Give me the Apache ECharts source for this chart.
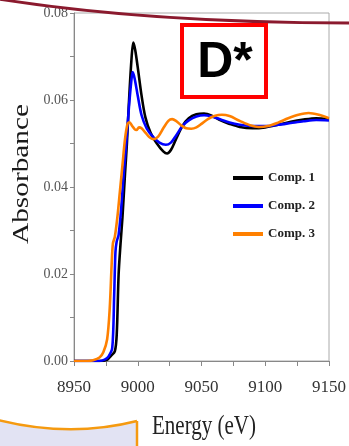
<!DOCTYPE html>
<html>
<head>
<meta charset="utf-8">
<script src="https://cdn.jsdelivr.net/npm/echarts@6/dist/echarts.min.js"></script>
<style>
html,body{margin:0;padding:0;background:#fff;}
#chart{width:349px;height:446px;}
</style>
</head>
<body>
<div id="chart"></div>
<script>
// ---- data ----
const seriesNames = ['Comp. 1', 'Comp. 2', 'Comp. 3'];
const xTicks = [8950, 9000, 9050, 9100, 9150];
const yTicks = [0.00, 0.02, 0.04, 0.06, 0.08];

const comp1Energy = [8950, 8970, 8976, 8979, 8982, 8983.5, 8985, 8986.5, 8988, 8990, 8991.5, 8993, 8995, 8996.5, 8998, 9000, 9003, 9006, 9010, 9015, 9020, 9023, 9026, 9030, 9035, 9040, 9046, 9052, 9058, 9065, 9072, 9080, 9090, 9100, 9110, 9120, 9130, 9140, 9150];
const comp1Abs    = [0.0000, 0.0000, 0.0003, 0.0012, 0.0022, 0.0060, 0.0200, 0.0270, 0.0330, 0.0430, 0.0500, 0.0590, 0.0690, 0.0732, 0.0715, 0.0675, 0.0610, 0.0560, 0.0525, 0.0500, 0.0482, 0.0477, 0.0485, 0.0510, 0.0540, 0.0558, 0.0567, 0.0569, 0.0564, 0.0553, 0.0545, 0.0538, 0.0535, 0.0537, 0.0543, 0.0550, 0.0555, 0.0558, 0.0556];

const comp2Energy = [8950, 8970, 8974, 8977, 8980, 8981.5, 8982.5, 8983.5, 8985, 8987, 8989, 8991, 8993, 8995, 8996, 8997.5, 9000, 9003, 9007, 9012, 9017, 9022, 9026, 9030, 9035, 9040, 9046, 9052, 9058, 9065, 9072, 9080, 9090, 9100, 9110, 9120, 9130, 9140, 9150];
const comp2Abs    = [0.0000, 0.0000, 0.0003, 0.0010, 0.0030, 0.0150, 0.0250, 0.0275, 0.0290, 0.0350, 0.0430, 0.0500, 0.0580, 0.0645, 0.0664, 0.0650, 0.0610, 0.0565, 0.0535, 0.0515, 0.0502, 0.0497, 0.0502, 0.0518, 0.0540, 0.0553, 0.0562, 0.0565, 0.0562, 0.0555, 0.0548, 0.0543, 0.0540, 0.0540, 0.0543, 0.0547, 0.0551, 0.0554, 0.0553];

const comp3Energy = [8950, 8960, 8965, 8970, 8973, 8976, 8978, 8979.5, 8980.5, 8982, 8984, 8986, 8988, 8990, 8992, 8993.5, 8995.5, 8997.5, 8999, 9001, 9003, 9006, 9009, 9012, 9016, 9020, 9024, 9027, 9030, 9034, 9038, 9042, 9046, 9050, 9055, 9060, 9066, 9072, 9080, 9088, 9095, 9102, 9110, 9118, 9126, 9134, 9142, 9150];
const comp3Abs    = [0.0000, 0.0000, 0.0002, 0.0008, 0.0020, 0.0050, 0.0120, 0.0220, 0.0270, 0.0285, 0.0330, 0.0390, 0.0450, 0.0510, 0.0545, 0.0549, 0.0541, 0.0533, 0.0531, 0.0537, 0.0535, 0.0525, 0.0515, 0.0510, 0.0516, 0.0535, 0.0552, 0.0556, 0.0552, 0.0542, 0.0535, 0.0534, 0.0537, 0.0545, 0.0556, 0.0563, 0.0566, 0.0563, 0.0552, 0.0542, 0.0538, 0.0540, 0.0548, 0.0558, 0.0566, 0.0570, 0.0566, 0.0558];

const seriesColors = ['#000000', '#0000ff', '#ff8000'];

function zip(xs, ys) { return xs.map((x, i) => [x, ys[i]]); }
const allData = [zip(comp1Energy, comp1Abs), zip(comp2Energy, comp2Abs), zip(comp3Energy, comp3Abs)];

const chart = echarts.init(document.getElementById('chart'), null, { renderer: 'canvas' });
const serif = "'Liberation Serif', 'DejaVu Serif', serif";

const option = {
  backgroundColor: '#ffffff',
  animation: false,
  grid: { left: 74, right: 13, top: 13, bottom: 85, show: true, borderColor: '#aaaaaa', borderWidth: 1, containLabel: false },
  legend: {
    data: seriesNames,
    left: 228, top: 166, orient: 'vertical',
    itemWidth: 30, itemHeight: 4, itemGap: 14, icon: 'rect',
    textStyle: { fontFamily: serif, fontSize: 13, fontWeight: 'bold', color: '#222', lineHeight: 14 }
  },
  xAxis: {
    type: 'value', min: 8950, max: 9150, interval: 50,
    axisLine: { show: true, lineStyle: { color: '#888', width: 1 } },
    axisTick: { show: true, inside: false, length: 5, lineStyle: { color: '#888' } },
    minorTick: { show: true, splitNumber: 2, length: 5, lineStyle: { color: '#888' } },
    splitLine: { show: false },
    axisLabel: { fontFamily: serif, fontSize: 17, color: '#333', margin: 18,
      formatter: v => xTicks.includes(v) ? String(v) : '' }
  },
  yAxis: {
    type: 'value', min: 0, max: 0.08, interval: 0.02,
    axisLine: { show: true, lineStyle: { color: '#888', width: 1 } },
    axisTick: { show: true, inside: false, length: 4, lineStyle: { color: '#888' } },
    minorTick: { show: true, splitNumber: 2, length: 4, lineStyle: { color: '#888' } },
    splitLine: { show: false },
    axisLabel: { fontFamily: serif, fontSize: 14, color: '#555', margin: 6,
      formatter: v => v.toFixed(2) }
  },
  series: seriesNames.map((n, i) => ({
    name: n, type: 'line', data: allData[i], showSymbol: false, smooth: 0.3,
    lineStyle: { color: seriesColors[i], width: 2.6 }, itemStyle: { color: seriesColors[i] }
  })),
  graphic: [
    { type: 'bezierCurve', silent: true, z: 100,
      shape: { x1: -2, y1: -1, cpx1: 150, cpy1: 23, x2: 351, y2: 23 },
      style: { stroke: '#8b1a2e', lineWidth: 3, fill: null } },
    { type: 'rect', z: 100, shape: { x: 182, y: 25, width: 84, height: 72 },
      style: { fill: '#ffffff', stroke: '#ff0000', lineWidth: 4 } },
    { type: 'text', z: 101, x: 225, y: 63,
      style: { text: 'D*', font: "bold 50px 'Liberation Sans', Arial, sans-serif", fill: '#000', align: 'center', verticalAlign: 'middle' } },
    { type: 'text', z: 101, x: 22, y: 174, rotation: Math.PI / 2, scaleX: 1.22,
      style: { text: 'Absorbance', font: "24px 'Liberation Serif', serif", fill: '#1a1a1a', align: 'center', verticalAlign: 'middle' } },
    { type: 'text', z: 101, x: 204, y: 427, scaleY: 1.25,
      style: { text: 'Energy (eV)', font: "21px 'Liberation Serif', serif", fill: '#222', align: 'center', verticalAlign: 'middle' } },
    { type: 'polygon', z: 100, silent: true,
      shape: { points: [[-2, 420], [20, 425], [45, 429], [70, 430], [95, 429], [117, 426], [137, 421], [137, 448], [-2, 448]] },
      style: { fill: '#e2e3f3', stroke: null } },
    { type: 'bezierCurve', silent: true, z: 101,
      shape: { x1: -2, y1: 420, cpx1: 70, cpy1: 438, x2: 137, y2: 421 },
      style: { stroke: '#f59a10', lineWidth: 2.5, fill: null } },
    { type: 'line', silent: true, z: 101,
      shape: { x1: 137, y1: 421, x2: 137, y2: 448 },
      style: { stroke: '#f59a10', lineWidth: 2.5 } }
  ]
};
chart.setOption(option);
</script>
</body>
</html>
